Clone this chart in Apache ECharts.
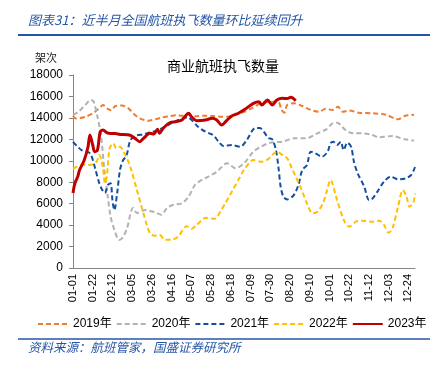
<!DOCTYPE html>
<html>
<head>
<meta charset="utf-8">
<script src="https://cdn.jsdelivr.net/npm/echarts@6/dist/echarts.min.js"></script>
<style>
  html, body { margin: 0; padding: 0; background: #fff; }
  #chart { width: 435px; height: 369px; }
</style>
</head>
<body>
<div id="chart"></div>
<script>
// day-of-year (0 = 01-01) paired with flights flown
const xLabels = ['01-01', '01-22', '02-12', '03-05', '03-26', '04-16', '05-07', '05-28', '06-18',
  '07-09', '07-30', '08-20', '09-10', '10-01', '10-22', '11-12', '12-03', '12-24'];

const y2019 = [[0, 14200], [3, 13950], [13, 14100], [21, 14430], [28, 14890], [32, 15200], [36, 14890],
  [41, 14700], [45, 15110], [52, 15150], [59, 14890], [64, 14430], [71, 13960], [80, 13740], [89, 13900],
  [95, 14050], [102, 14150], [110, 14250], [116, 14200], [123, 14350], [130, 14150], [138, 14200],
  [148, 14180], [158, 14100], [166, 14120], [176, 14370], [183, 14580], [190, 14890], [200, 15360],
  [214, 15510], [219, 15450], [222, 14740], [225, 14490], [228, 15200], [235, 15360], [244, 15110],
  [253, 14740], [262, 14580], [269, 14850], [276, 14740], [282, 15040], [287, 14580], [294, 14680],
  [304, 14490], [319, 14430], [333, 14300], [346, 13870], [353, 14180], [363, 14300]];

const y2020 = [[0, 14270], [6, 14580], [13, 15200], [19, 15670], [22, 15510], [26, 14120], [30, 12250],
  [33, 9460], [37, 6670], [40, 4810], [44, 3570], [49, 2620], [52, 2750], [57, 3570], [64, 5600],
  [68, 5130], [77, 5400], [87, 5200], [94, 4970], [100, 5590], [107, 5900], [116, 6030], [123, 6650],
  [130, 7770], [137, 8210], [144, 8520], [153, 8980], [164, 9760], [173, 9300], [182, 9760],
  [192, 10850], [200, 11310], [210, 11690], [223, 11780], [235, 12090], [248, 12090], [260, 12560],
  [270, 12950], [276, 13490], [281, 13550], [290, 12870], [298, 12560], [308, 12560], [317, 12450],
  [326, 12190], [340, 12310], [353, 12000], [363, 11900]];

const y2021 = [[0, 11750], [4, 11400], [9, 11000], [15, 10850], [19, 10600], [24, 9140], [28, 7900],
  [31, 7300], [34, 6990], [37, 7740], [40, 7900], [42, 6300], [44, 5400], [47, 6990], [50, 9140],
  [53, 10000], [57, 10500], [61, 11900], [67, 12350], [75, 12450], [82, 12650], [89, 12800],
  [98, 13180], [108, 13650], [117, 13960], [122, 14050], [127, 13750], [133, 13180], [141, 12710],
  [149, 12400], [155, 11780], [160, 11380], [169, 11470], [178, 11310], [185, 11940], [194, 13050],
  [199, 13050], [203, 12710], [208, 12120], [212, 12000], [216, 11000], [219, 9140], [221, 7580],
  [224, 6650], [228, 6400], [235, 6800], [240, 7770], [244, 9140], [249, 9600], [253, 10850],
  [258, 10700], [265, 10380], [271, 10850], [274, 11620], [277, 11780], [281, 11470], [285, 11780],
  [288, 11000], [292, 11690], [296, 11310], [299, 9910], [303, 8830], [310, 7580], [315, 6340],
  [318, 6400], [324, 7120], [331, 8050], [338, 8520], [346, 8270], [354, 8360], [360, 8680], [364, 9420]];

const y2022 = [[0, 9250], [9, 9610], [18, 9610], [25, 9910], [28, 10540], [32, 9300], [34, 7900],
  [36, 8520], [39, 11160], [43, 11620], [46, 11160], [50, 11310], [53, 11000], [59, 9910], [62, 9140],
  [68, 7270], [73, 5720], [78, 4170], [82, 3230], [87, 3000], [92, 3100], [98, 2640], [105, 2640],
  [112, 2950], [121, 3890], [126, 3640], [132, 4040], [141, 4660], [151, 4600], [157, 5280],
  [162, 6030], [169, 7120], [176, 8210], [182, 9140], [192, 10070], [201, 9910], [207, 10100],
  [212, 10540], [217, 10850], [223, 10540], [228, 10230], [233, 9300], [237, 8520], [242, 7580],
  [249, 6030], [255, 5100], [260, 5250], [266, 6030], [270, 7120], [274, 8210], [281, 6340],
  [289, 4320], [294, 3850], [301, 4320], [308, 4410], [319, 4320], [326, 4410], [331, 4010],
  [336, 3290], [340, 3700], [346, 5720], [351, 7270], [355, 6650], [358, 5720], [362, 6030], [364, 6960]];

const y2023 = [[0, 7000], [2, 7900], [5, 8520], [7, 9140], [12, 10070], [16, 11310], [18, 12400],
  [21, 11470], [23, 10850], [26, 11000], [29, 12710], [32, 12870], [36, 12620], [40, 12550],
  [45, 12550], [50, 12460], [60, 12400], [66, 12090], [71, 11780], [75, 12090], [82, 12560],
  [86, 12500], [90, 12930], [92, 12560], [96, 13030], [103, 13550], [110, 13650], [116, 13800],
  [123, 14430], [126, 14110], [132, 13740], [141, 13800], [148, 13960], [153, 13800], [158, 13340],
  [164, 13800], [169, 14180], [176, 14430], [183, 14800], [192, 15360], [198, 15510], [201, 15200],
  [207, 15670], [212, 15200], [217, 15670], [223, 15830], [228, 15800], [232, 15920], [237, 15600]];

const seriesNames = ['2019年', '2020年', '2021年', '2022年', '2023年'];
const seriesData = [y2019, y2020, y2021, y2022, y2023];
const colors = ['#ED7D31', '#B2B2B2', '#134F9E', '#FFC000', '#C00000'];

const chart = echarts.init(document.getElementById('chart'));
const font = '"Liberation Sans", "Noto Sans CJK SC", sans-serif';
const blue = '#2556A6';

chart.setOption({
  animation: false,
  color: colors,
  grid: { left: 73, right: 20, top: 75, bottom: 101, outerBoundsMode: 'none' },
  xAxis: {
    type: 'value',
    min: 0,
    max: 364,
    interval: 21,
    axisLine: { lineStyle: { color: '#858585', width: 1 } },
    axisTick: { show: false },
    splitLine: { show: false },
    axisLabel: {
      rotate: 90,
      margin: 6,
      showMaxLabel: false,
      color: '#000',
      fontSize: 11,
      fontFamily: font,
      formatter: v => (v % 21 === 0 ? (xLabels[v / 21] || '') : '')
    }
  },
  yAxis: {
    type: 'value',
    min: 0,
    max: 18000,
    interval: 2000,
    axisLine: { show: true, lineStyle: { color: '#858585', width: 1 } },
    axisTick: { show: true, length: 4, lineStyle: { color: '#858585' } },
    splitLine: { show: false },
    axisLabel: { margin: 10, color: '#000', fontSize: 12, fontFamily: font, formatter: v => String(v) }
  },
  legend: {
    left: 32,
    top: 313,
    itemWidth: 30,
    itemHeight: 14,
    itemGap: 4,
    itemStyle: { opacity: 0 },
    textStyle: { color: '#000', fontSize: 12, fontFamily: font },
    data: seriesNames
  },
  graphic: [
    {
      type: 'text', left: 28, top: 14,
      style: { text: '图表31：近半月全国航班执飞数量环比延续回升', fill: blue,
        font: 'italic 13px "Noto Sans CJK SC", sans-serif' }
    },
    { type: 'line', shape: { x1: 18, y1: 35, x2: 430, y2: 35 }, style: { stroke: blue, lineWidth: 2 } },
    {
      type: 'text', left: 35, top: 52,
      style: { text: '架次', fill: '#222', font: '11px "Noto Sans CJK SC", sans-serif' }
    },
    {
      type: 'text', x: 223, y: 66,
      style: { text: '商业航班执飞数量', fill: '#000', align: 'center', verticalAlign: 'middle',
        font: '14px "Noto Sans CJK SC", sans-serif' }
    },
    { type: 'line', shape: { x1: 18, y1: 339, x2: 430, y2: 339 }, style: { stroke: blue, lineWidth: 1.5 } },
    {
      type: 'text', left: 28, top: 341,
      style: { text: '资料来源：航班管家，国盛证券研究所', fill: blue,
        font: 'italic 12.5px "Noto Sans CJK SC", sans-serif' }
    }
  ],
  series: seriesData.map((data, i) => ({
    name: seriesNames[i],
    type: 'line',
    data: data,
    symbol: 'none',
    showSymbol: false,
    smooth: 0.3,
    z: i === 4 ? 5 : 2,
    lineStyle: i === 4
      ? { width: 3, color: colors[i] }
      : { width: 2, color: colors[i], type: [5, 3] }
  }))
});
</script>
</body>
</html>
